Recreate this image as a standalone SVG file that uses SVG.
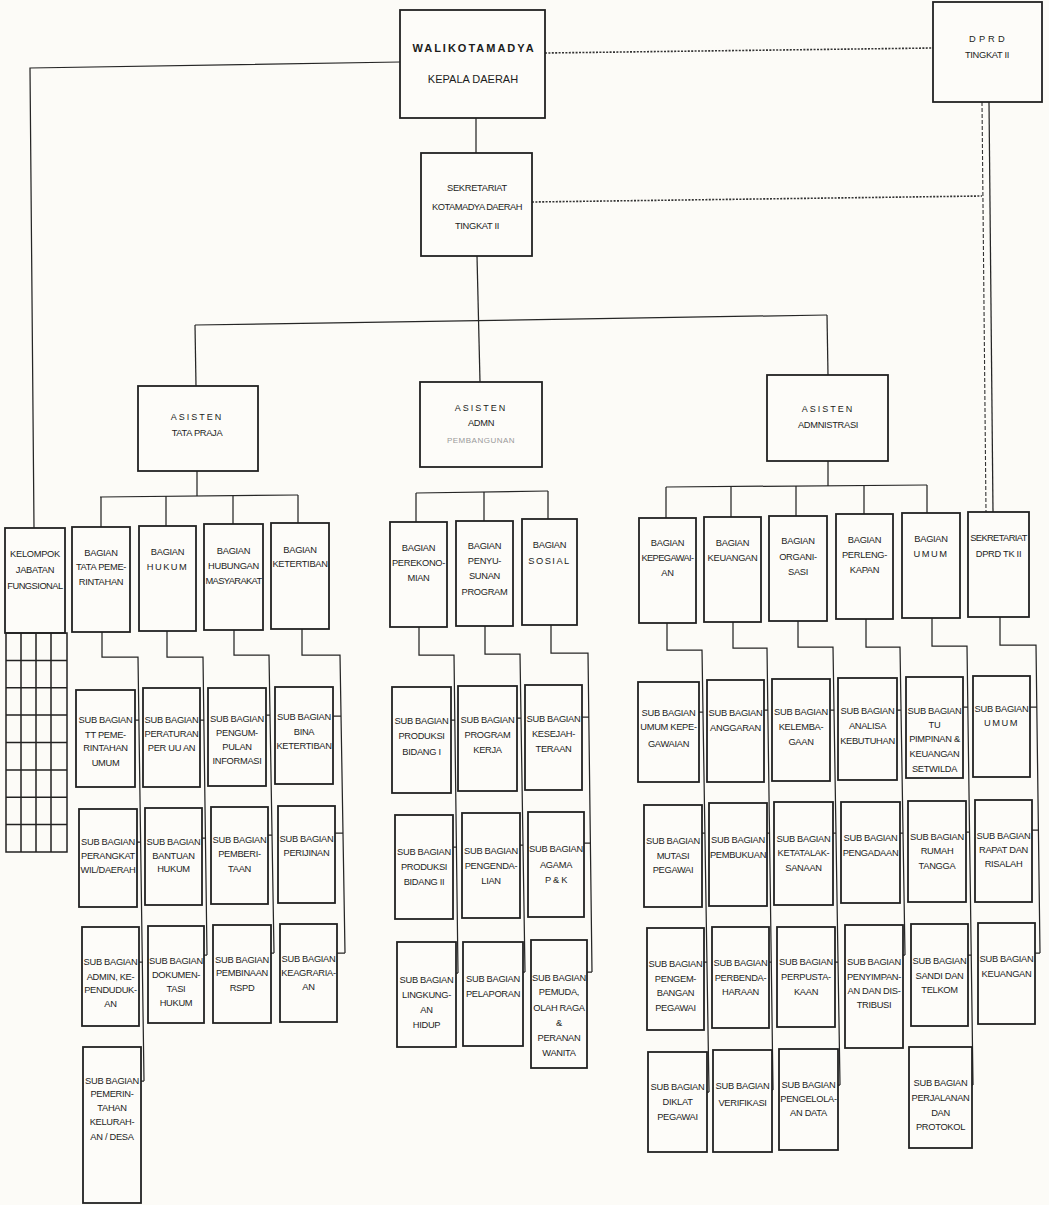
<svg xmlns="http://www.w3.org/2000/svg" width="1049" height="1205" viewBox="0 0 1049 1205">
<style>
.bg{fill:#fcfbf7}
.box{fill:#fdfcf9;stroke:#222;stroke-width:1.8}
.grid{fill:none;stroke:#222;stroke-width:1.5}
.ln{fill:none;stroke:#262626;stroke-width:1.25}
.dot{fill:none;stroke:#333;stroke-width:1.6;stroke-dasharray:2 1.4}
.dash{fill:none;stroke:#333;stroke-width:1.1;stroke-dasharray:4 2}
text{font-family:"Liberation Sans",Arial,sans-serif;fill:#1c1c1c;text-anchor:middle}
.s{font-size:9.3px;letter-spacing:-0.3px}
.b{font-size:9.3px;letter-spacing:-0.3px}
.sp{font-size:9px;letter-spacing:2px}
.top1{font-size:11px;font-weight:bold;letter-spacing:2px}
.top2{font-size:11px}
.faint{font-size:8px;fill:#9a9a9a;letter-spacing:0.5px}
</style>
<rect class="bg" x="0" y="0" width="1049" height="1205"/>

<g id="connectors">
  <polyline class="ln" points="400,62 30,68 34,528"/>
  <line class="ln" x1="476" y1="118" x2="476" y2="153"/>
  <line class="ln" x1="477" y1="256" x2="480" y2="382"/>
  <line class="ln" x1="195" y1="325" x2="827" y2="315"/>
  <line class="ln" x1="195" y1="325" x2="196" y2="386"/>
  <line class="ln" x1="827" y1="315" x2="828" y2="375"/>
  <line class="dot" x1="545" y1="53" x2="933" y2="48"/>
  <line class="dot" x1="532" y1="202" x2="982" y2="196"/>
  <line class="dash" x1="982" y1="102" x2="986" y2="512"/>
  <line class="ln" x1="989" y1="102" x2="993" y2="512"/>
  <!-- Tata Praja -->
  <line class="ln" x1="197" y1="471" x2="197" y2="496"/>
  <line class="ln" x1="100" y1="497" x2="298" y2="495"/>
  <line class="ln" x1="101" y1="497" x2="101" y2="527"/>
  <line class="ln" x1="166" y1="496" x2="166" y2="526"/>
  <line class="ln" x1="233" y1="496" x2="233" y2="524"/>
  <line class="ln" x1="298" y1="495" x2="298" y2="523"/>
  <!-- Admin Pembangunan -->
  <line class="ln" x1="416" y1="493" x2="548" y2="491"/>
  <line class="ln" x1="416" y1="493" x2="416" y2="522"/>
  <line class="ln" x1="484" y1="492" x2="484" y2="521"/>
  <line class="ln" x1="548" y1="491" x2="548" y2="519"/>
  <!-- Administrasi -->
  <line class="ln" x1="828" y1="461" x2="828" y2="486"/>
  <line class="ln" x1="666" y1="487" x2="927" y2="485"/>
  <line class="ln" x1="666" y1="487" x2="666" y2="518"/>
  <line class="ln" x1="731" y1="487" x2="731" y2="517"/>
  <line class="ln" x1="796" y1="486" x2="796" y2="516"/>
  <line class="ln" x1="864" y1="485" x2="864" y2="514"/>
  <line class="ln" x1="927" y1="485" x2="927" y2="513"/>
  <!-- sub trees -->
  <polyline class="ln" points="102,632 102,657 138,657 144,1081"/>
  <path class="ln" d="M135,720H139M137,842H140.6M139,962H142.3M141,1081H144"/>
  <polyline class="ln" points="167,631 167,657 203,657 207,955"/>
  <path class="ln" d="M200,720H204M202,838H205.4M204,955H207"/>
  <polyline class="ln" points="234,630 234,655 269,655 274,953"/>
  <path class="ln" d="M266,715H270M268,835H272M271,953H274"/>
  <polyline class="ln" points="302,629 302,655 340,655 345,953"/>
  <path class="ln" d="M333,716H341M335,833H343M337,953H345"/>
  <polyline class="ln" points="419,627 419,655 454,655 458,973"/>
  <path class="ln" d="M451,720H455M453,847H456.4M456,973H458"/>
  <polyline class="ln" points="485,626 485,654 520,654 525,972"/>
  <path class="ln" d="M517,718H521M520,845H523M523,972H525"/>
  <polyline class="ln" points="551,625 551,653 588,653 592,972"/>
  <path class="ln" d="M582,717H589M584,843H590.4M587,972H592"/>
  <polyline class="ln" points="667,623 667,650 702,650 709,1092"/>
  <path class="ln" d="M699,712H703M702,833H705M704,962H707M707,1092H709"/>
  <polyline class="ln" points="733,622 733,648 767,648 773,1090"/>
  <path class="ln" d="M764,710H768M767,833H769.5M769,962H771.3M772,1090H773"/>
  <polyline class="ln" points="798,621 798,647 833,647 840,1085"/>
  <path class="ln" d="M830,710H834M833,833H836M835,962H838M838,1085H840"/>
  <polyline class="ln" points="866,619 866,647 900,647 905,955"/>
  <path class="ln" d="M897,710H901M900,833H903M903,955H905"/>
  <polyline class="ln" points="932,618 932,646 967,646 973,1085"/>
  <path class="ln" d="M963,707H968M966,832H969.5M968,955H971.2M972,1085H973"/>
  <polyline class="ln" points="1000,617 1000,645 1036,645 1040,953"/>
  <path class="ln" d="M1030,707H1037M1032,830H1038.4M1035,953H1040"/>
</g>

<g id="walikotamadya"><rect class="box" x="400" y="10" width="145" height="108"/>
  <text class="top1" x="474" y="52">WALIKOTAMADYA</text><text class="top2" x="473" y="83">KEPALA DAERAH</text></g>
<g id="dprd"><rect class="box" x="933" y="2" width="109" height="100"/>
  <text class="s" x="987" y="42" style="letter-spacing:0.3px">D P R D</text><text class="s" x="987" y="58">TINGKAT II</text></g>
<g id="sekretariat"><rect class="box" x="421" y="153" width="111" height="103"/>
  <text class="s" x="477" y="191">SEKRETARIAT</text><text class="s" x="477" y="210" style="letter-spacing:-0.5px">KOTAMADYA DAERAH</text><text class="s" x="477" y="229">TINGKAT II</text></g>

<g id="asisten-tata-praja"><rect class="box" x="138" y="386" width="120" height="85"/>
  <text class="sp" x="197" y="420">ASISTEN</text><text class="s" x="197" y="436">TATA PRAJA</text></g>
<g id="asisten-admin-pembangunan"><rect class="box" x="420" y="382" width="122" height="85"/>
  <text class="sp" x="481" y="411">ASISTEN</text><text class="s" x="481" y="426">ADMN</text><text class="faint" x="481" y="443">PEMBANGUNAN</text></g>
<g id="asisten-administrasi"><rect class="box" x="767" y="375" width="121" height="86"/>
  <text class="sp" x="828" y="412">ASISTEN</text><text class="s" x="828" y="428">ADMNISTRASI</text></g>

<g id="kelompok-jabatan-fungsional"><rect class="box" x="5" y="528" width="60" height="105"/>
  <text class="b" x="35" y="557">KELOMPOK</text><text class="b" x="35" y="573">JABATAN</text><text class="b" x="35" y="589" style="letter-spacing:-0.5px">FUNGSIONAL</text>
  <rect class="grid" x="6" y="633" width="61" height="219"/>
  <path class="grid" d="M21,633V852M36,633V852M51,633V852M6,660.4H67M6,687.8H67M6,715.1H67M6,742.5H67M6,769.9H67M6,797.3H67M6,824.6H67"/></g>
<g id="bagian-tata-pemerintahan"><rect class="box" x="72" y="527" width="58" height="105"/>
  <text class="b" x="101" y="556">BAGIAN</text><text class="b" x="101" y="570">TATA PEME-</text><text class="b" x="101" y="585">RINTAHAN</text></g>
<g id="bagian-hukum"><rect class="box" x="139" y="526" width="57" height="105"/>
  <text class="b" x="167.5" y="555">BAGIAN</text><text class="b" x="167.5" y="570" style="letter-spacing:1.5px">HUKUM</text></g>
<g id="bagian-hubungan-masyarakat"><rect class="box" x="204" y="524" width="59" height="106"/>
  <text class="b" x="233.5" y="554">BAGIAN</text><text class="b" x="233.5" y="569">HUBUNGAN</text><text class="b" x="233.5" y="584" style="letter-spacing:-0.6px">MASYARAKAT</text></g>
<g id="bagian-ketertiban"><rect class="box" x="271" y="523" width="58" height="106"/>
  <text class="b" x="300" y="553">BAGIAN</text><text class="b" x="300" y="567">KETERTIBAN</text></g>
<g id="bagian-perekonomian"><rect class="box" x="390" y="522" width="57" height="105"/>
  <text class="b" x="418.5" y="551">BAGIAN</text><text class="b" x="418.5" y="566">PEREKONO-</text><text class="b" x="418.5" y="581">MIAN</text></g>
<g id="bagian-penyusunan-program"><rect class="box" x="456" y="521" width="57" height="105"/>
  <text class="b" x="484.5" y="549">BAGIAN</text><text class="b" x="484.5" y="564">PENYU-</text><text class="b" x="484.5" y="579">SUNAN</text><text class="b" x="484.5" y="595">PROGRAM</text></g>
<g id="bagian-sosial"><rect class="box" x="522" y="519" width="55" height="106"/>
  <text class="b" x="549.5" y="548">BAGIAN</text><text class="b" x="549.5" y="564" style="letter-spacing:1.5px">SOSIAL</text></g>
<g id="bagian-kepegawaian"><rect class="box" x="639" y="518" width="57" height="105"/>
  <text class="b" x="667.5" y="546">BAGIAN</text><text class="b" x="667.5" y="561" style="letter-spacing:-0.6px">KEPEGAWAI-</text><text class="b" x="667.5" y="576">AN</text></g>
<g id="bagian-keuangan"><rect class="box" x="704" y="517" width="57" height="105"/>
  <text class="b" x="732.5" y="546">BAGIAN</text><text class="b" x="732.5" y="561">KEUANGAN</text></g>
<g id="bagian-organisasi"><rect class="box" x="769" y="516" width="58" height="105"/>
  <text class="b" x="798" y="544">BAGIAN</text><text class="b" x="798" y="560">ORGANI-</text><text class="b" x="798" y="575">SASI</text></g>
<g id="bagian-perlengkapan"><rect class="box" x="836" y="514" width="57" height="105"/>
  <text class="b" x="864.5" y="543">BAGIAN</text><text class="b" x="864.5" y="558">PERLENG-</text><text class="b" x="864.5" y="573">KAPAN</text></g>
<g id="bagian-umum"><rect class="box" x="902" y="513" width="58" height="105"/>
  <text class="b" x="931" y="542">BAGIAN</text><text class="b" x="931" y="557" style="letter-spacing:1.5px">UMUM</text></g>
<g id="sekretariat-dprd"><rect class="box" x="968" y="512" width="61" height="105"/>
  <text class="b" x="998.5" y="541" style="letter-spacing:-0.6px">SEKRETARIAT</text><text class="b" x="998.5" y="557">DPRD  TK II</text></g>

<g id="sb-tt-pemerintahan-umum"><rect class="box" x="76" y="690" width="59" height="97"/>
  <text class="s" x="105.5" y="723">SUB BAGIAN</text><text class="s" x="105.5" y="738">TT PEME-</text><text class="s" x="105.5" y="751">RINTAHAN</text><text class="s" x="105.5" y="766">UMUM</text></g>
<g id="sb-perangkat"><rect class="box" x="79" y="809" width="58" height="98"/>
  <text class="s" x="108" y="845">SUB BAGIAN</text><text class="s" x="108" y="859">PERANGKAT</text><text class="s" x="108" y="873">WIL/DAERAH</text></g>
<g id="sb-admin-kependudukan"><rect class="box" x="82" y="927" width="57" height="99"/>
  <text class="s" x="110.5" y="965">SUB BAGIAN</text><text class="s" x="110.5" y="980">ADMIN, KE-</text><text class="s" x="110.5" y="993">PENDUDUK-</text><text class="s" x="110.5" y="1007">AN</text></g>
<g id="sb-pemerintahan-kelurahan"><rect class="box" x="83" y="1047" width="58" height="156"/>
  <text class="s" x="112" y="1084">SUB BAGIAN</text><text class="s" x="112" y="1097">PEMERIN-</text><text class="s" x="112" y="1111">TAHAN</text><text class="s" x="112" y="1125">KELURAH-</text><text class="s" x="112" y="1140">AN / DESA</text></g>

<g id="sb-peraturan"><rect class="box" x="143" y="688" width="57" height="99"/>
  <text class="s" x="171.5" y="723">SUB BAGIAN</text><text class="s" x="171.5" y="737">PERATURAN</text><text class="s" x="171.5" y="751">PER UU AN</text></g>
<g id="sb-bantuan-hukum"><rect class="box" x="145" y="808" width="57" height="97"/>
  <text class="s" x="173.5" y="845">SUB BAGIAN</text><text class="s" x="173.5" y="859">BANTUAN</text><text class="s" x="173.5" y="872">HUKUM</text></g>
<g id="sb-dokumentasi-hukum"><rect class="box" x="148" y="926" width="56" height="97"/>
  <text class="s" x="176" y="964">SUB BAGIAN</text><text class="s" x="176" y="978">DOKUMEN-</text><text class="s" x="176" y="992">TASI</text><text class="s" x="176" y="1006">HUKUM</text></g>

<g id="sb-pengumpulan-informasi"><rect class="box" x="208" y="688" width="58" height="98"/>
  <text class="s" x="237" y="722">SUB BAGIAN</text><text class="s" x="237" y="736">PENGUM-</text><text class="s" x="237" y="750">PULAN</text><text class="s" x="237" y="764">INFORMASI</text></g>
<g id="sb-pemberitaan"><rect class="box" x="211" y="807" width="57" height="97"/>
  <text class="s" x="239.5" y="843">SUB BAGIAN</text><text class="s" x="239.5" y="857">PEMBERI-</text><text class="s" x="239.5" y="872">TAAN</text></g>
<g id="sb-pembinaan-rspd"><rect class="box" x="213" y="925" width="58" height="98"/>
  <text class="s" x="242" y="963">SUB BAGIAN</text><text class="s" x="242" y="976">PEMBINAAN</text><text class="s" x="242" y="991">RSPD</text></g>

<g id="sb-bina-ketertiban"><rect class="box" x="275" y="687" width="58" height="97"/>
  <text class="s" x="304" y="720">SUB BAGIAN</text><text class="s" x="304" y="735">BINA</text><text class="s" x="304" y="749">KETERTIBAN</text></g>
<g id="sb-perijinan"><rect class="box" x="278" y="806" width="57" height="97"/>
  <text class="s" x="306.5" y="842">SUB BAGIAN</text><text class="s" x="306.5" y="856">PERIJINAN</text></g>
<g id="sb-keagrariaan"><rect class="box" x="280" y="924" width="57" height="98"/>
  <text class="s" x="308.5" y="962">SUB BAGIAN</text><text class="s" x="308.5" y="976">KEAGRARIA-</text><text class="s" x="308.5" y="990">AN</text></g>

<g id="sb-produksi-1"><rect class="box" x="392" y="687" width="59" height="106"/>
  <text class="s" x="421.5" y="724">SUB BAGIAN</text><text class="s" x="421.5" y="739">PRODUKSI</text><text class="s" x="421.5" y="755">BIDANG I</text></g>
<g id="sb-produksi-2"><rect class="box" x="395" y="815" width="58" height="104"/>
  <text class="s" x="424" y="855">SUB BAGIAN</text><text class="s" x="424" y="870">PRODUKSI</text><text class="s" x="424" y="885">BIDANG II</text></g>
<g id="sb-lingkungan-hidup"><rect class="box" x="397" y="942" width="59" height="105"/>
  <text class="s" x="426.5" y="983">SUB BAGIAN</text><text class="s" x="426.5" y="998">LINGKUNG-</text><text class="s" x="426.5" y="1013">AN</text><text class="s" x="426.5" y="1028">HIDUP</text></g>

<g id="sb-program-kerja"><rect class="box" x="458" y="686" width="59" height="105"/>
  <text class="s" x="487.5" y="723">SUB BAGIAN</text><text class="s" x="487.5" y="738">PROGRAM</text><text class="s" x="487.5" y="753">KERJA</text></g>
<g id="sb-pengendalian"><rect class="box" x="462" y="813" width="58" height="105"/>
  <text class="s" x="491" y="854">SUB BAGIAN</text><text class="s" x="491" y="869">PENGENDA-</text><text class="s" x="491" y="884">LIAN</text></g>
<g id="sb-pelaporan"><rect class="box" x="463" y="942" width="60" height="104"/>
  <text class="s" x="493" y="982">SUB BAGIAN</text><text class="s" x="493" y="997">PELAPORAN</text></g>

<g id="sb-kesejahteraan"><rect class="box" x="525" y="685" width="57" height="105"/>
  <text class="s" x="553.5" y="722">SUB BAGIAN</text><text class="s" x="553.5" y="737">KESEJAH-</text><text class="s" x="553.5" y="752">TERAAN</text></g>
<g id="sb-agama"><rect class="box" x="528" y="812" width="56" height="105"/>
  <text class="s" x="556" y="852">SUB BAGIAN</text><text class="s" x="556" y="868">AGAMA</text><text class="s" x="556" y="883">P &amp; K</text></g>
<g id="sb-pemuda"><rect class="box" x="531" y="940" width="56" height="128"/>
  <text class="s" x="559" y="981">SUB BAGIAN</text><text class="s" x="559" y="995">PEMUDA,</text><text class="s" x="559" y="1011">OLAH RAGA</text><text class="s" x="559" y="1026">&amp;</text><text class="s" x="559" y="1041">PERANAN</text><text class="s" x="559" y="1056">WANITA</text></g>

<g id="sb-umum-kepegawaian"><rect class="box" x="638" y="682" width="61" height="100"/>
  <text class="s" x="668.5" y="716">SUB BAGIAN</text><text class="s" x="668.5" y="730">UMUM KEPE-</text><text class="s" x="668.5" y="747">GAWAIAN</text></g>
<g id="sb-mutasi-pegawai"><rect class="box" x="644" y="805" width="58" height="102"/>
  <text class="s" x="673" y="844">SUB BAGIAN</text><text class="s" x="673" y="859">MUTASI</text><text class="s" x="673" y="873">PEGAWAI</text></g>
<g id="sb-pengembangan-pegawai"><rect class="box" x="647" y="928" width="57" height="102"/>
  <text class="s" x="675.5" y="967">SUB BAGIAN</text><text class="s" x="675.5" y="982">PENGEM-</text><text class="s" x="675.5" y="996">BANGAN</text><text class="s" x="675.5" y="1011">PEGAWAI</text></g>
<g id="sb-diklat-pegawai"><rect class="box" x="648" y="1052" width="59" height="100"/>
  <text class="s" x="677.5" y="1090">SUB BAGIAN</text><text class="s" x="677.5" y="1105">DIKLAT</text><text class="s" x="677.5" y="1120">PEGAWAI</text></g>

<g id="sb-anggaran"><rect class="box" x="707" y="680" width="57" height="102"/>
  <text class="s" x="735.5" y="716">SUB BAGIAN</text><text class="s" x="735.5" y="731">ANGGARAN</text></g>
<g id="sb-pembukuan"><rect class="box" x="709" y="803" width="58" height="103"/>
  <text class="s" x="738" y="843">SUB BAGIAN</text><text class="s" x="738" y="858">PEMBUKUAN</text></g>
<g id="sb-perbendaharaan"><rect class="box" x="712" y="927" width="57" height="101"/>
  <text class="s" x="740.5" y="966">SUB BAGIAN</text><text class="s" x="740.5" y="981">PERBENDA-</text><text class="s" x="740.5" y="995">HARAAN</text></g>
<g id="sb-verifikasi"><rect class="box" x="713" y="1050" width="59" height="102"/>
  <text class="s" x="742.5" y="1089">SUB BAGIAN</text><text class="s" x="742.5" y="1106">VERIFIKASI</text></g>

<g id="sb-kelembagaan"><rect class="box" x="772" y="679" width="58" height="102"/>
  <text class="s" x="801" y="715">SUB BAGIAN</text><text class="s" x="801" y="730">KELEMBA-</text><text class="s" x="801" y="745">GAAN</text></g>
<g id="sb-ketatalaksanaan"><rect class="box" x="774" y="802" width="59" height="103"/>
  <text class="s" x="803.5" y="842">SUB BAGIAN</text><text class="s" x="803.5" y="856">KETATALAK-</text><text class="s" x="803.5" y="871">SANAAN</text></g>
<g id="sb-perpustakaan"><rect class="box" x="777" y="927" width="58" height="100"/>
  <text class="s" x="806" y="965">SUB BAGIAN</text><text class="s" x="806" y="980">PERPUSTA-</text><text class="s" x="806" y="995">KAAN</text></g>
<g id="sb-pengelolaan-data"><rect class="box" x="779" y="1049" width="59" height="101"/>
  <text class="s" x="808.5" y="1088">SUB BAGIAN</text><text class="s" x="808.5" y="1102">PENGELOLA-</text><text class="s" x="808.5" y="1116">AN DATA</text></g>

<g id="sb-analisa-kebutuhan"><rect class="box" x="838" y="678" width="59" height="102"/>
  <text class="s" x="867.5" y="714">SUB BAGIAN</text><text class="s" x="867.5" y="729">ANALISA</text><text class="s" x="867.5" y="744">KEBUTUHAN</text></g>
<g id="sb-pengadaan"><rect class="box" x="841" y="802" width="59" height="101"/>
  <text class="s" x="870.5" y="841">SUB BAGIAN</text><text class="s" x="870.5" y="856">PENGADAAN</text></g>
<g id="sb-penyimpanan"><rect class="box" x="845" y="925" width="58" height="123"/>
  <text class="s" x="874" y="965">SUB BAGIAN</text><text class="s" x="874" y="980">PENYIMPAN-</text><text class="s" x="874" y="994">AN DAN DIS-</text><text class="s" x="874" y="1008">TRIBUSI</text></g>

<g id="sb-tu-pimpinan"><rect class="box" x="906" y="677" width="57" height="101"/>
  <text class="s" x="934.5" y="714">SUB BAGIAN</text><text class="s" x="934.5" y="728">TU</text><text class="s" x="934.5" y="742">PIMPINAN &amp;</text><text class="s" x="934.5" y="757">KEUANGAN</text><text class="s" x="934.5" y="772">SETWILDA</text></g>
<g id="sb-rumah-tangga"><rect class="box" x="908" y="801" width="58" height="101"/>
  <text class="s" x="937" y="840">SUB BAGIAN</text><text class="s" x="937" y="854">RUMAH</text><text class="s" x="937" y="869">TANGGA</text></g>
<g id="sb-sandi-telkom"><rect class="box" x="911" y="924" width="57" height="102"/>
  <text class="s" x="939.5" y="964">SUB BAGIAN</text><text class="s" x="939.5" y="979">SANDI DAN</text><text class="s" x="939.5" y="993">TELKOM</text></g>
<g id="sb-perjalanan-protokol"><rect class="box" x="909" y="1047" width="63" height="101"/>
  <text class="s" x="940.5" y="1086">SUB BAGIAN</text><text class="s" x="940.5" y="1101">PERJALANAN</text><text class="s" x="940.5" y="1116">DAN</text><text class="s" x="940.5" y="1130">PROTOKOL</text></g>

<g id="sb-dprd-umum"><rect class="box" x="973" y="676" width="57" height="101"/>
  <text class="s" x="1001.5" y="712">SUB BAGIAN</text><text class="s" x="1001.5" y="726" style="letter-spacing:1.5px">UMUM</text></g>
<g id="sb-rapat-risalah"><rect class="box" x="975" y="800" width="57" height="102"/>
  <text class="s" x="1003.5" y="839">SUB BAGIAN</text><text class="s" x="1003.5" y="853">RAPAT DAN</text><text class="s" x="1003.5" y="867">RISALAH</text></g>
<g id="sb-dprd-keuangan"><rect class="box" x="978" y="923" width="57" height="101"/>
  <text class="s" x="1006.5" y="962">SUB BAGIAN</text><text class="s" x="1006.5" y="977">KEUANGAN</text></g>
</svg>
